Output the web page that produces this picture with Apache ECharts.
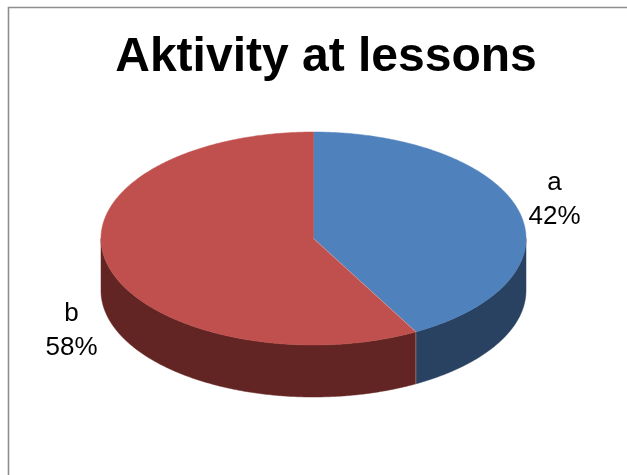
<!DOCTYPE html>
<html>
<head>
<meta charset="utf-8">
<style>html,body{margin:0;padding:0;background:#fff}#c{width:627px;height:475px}</style>
<script src="https://cdn.jsdelivr.net/npm/echarts@6/dist/echarts.min.js"></script>
</head>
<body>
<div id="c"></div>
<script>
var categories = ['a', 'b'];
var values = [42, 58];
var labelsPct = ['42%', '58%'];
var topColors = ['#4f81bd', '#c0504d'];
var sideColors = ['#294261', '#632523'];
var titleText = 'Aktivity at lessons';

var CX = 313.5, CY = 238.5, RX = 212.5, RY = 106.5, DEPTH = 52;
var labelPos = [[554.5, 200], [71.5, 331]];
var total = values.reduce(function (s, v) { return s + v; }, 0);

function pt(deg, dy) {
  var r = deg * Math.PI / 180;
  return [CX + RX * Math.sin(r), CY - RY * Math.cos(r) + (dy || 0)];
}
function arc(a0, a1, dy) {
  var pts = [], n = Math.max(2, Math.ceil(Math.abs(a1 - a0) * 2));
  for (var i = 0; i <= n; i++) pts.push(pt(a0 + (a1 - a0) * i / n, dy));
  return pts;
}

function renderSlice(params, api) {
  var i = params.dataIndex;
  var before = 0;
  for (var k = 0; k < i; k++) before += values[k];
  var a0 = before / total * 360;
  var a1 = (before + api.value(0)) / total * 360;
  var children = [];
  var w0 = Math.max(a0, 90), w1 = Math.min(a1, 270);
  if (w1 > w0) {
    children.push({
      type: 'polygon',
      shape: { points: arc(w0, w1, 0).concat(arc(w1, w0, DEPTH)) },
      style: { fill: sideColors[i], stroke: sideColors[i], lineWidth: 0.5 }
    });
  }
  children.push({
    type: 'polygon',
    shape: { points: [[CX, CY]].concat(arc(a0, a1, 0)) },
    style: { fill: topColors[i], stroke: topColors[i], lineWidth: 0.5 },
    z2: 5
  });
  // thin pale seam at the slice's leading edge, on top and on the wall
  if (a0 !== 0) {
    var e = pt(a0);
    children.push({
      type: 'polyline',
      shape: { points: [[CX, CY], e, [e[0], e[1] + DEPTH]] },
      style: { stroke: 'rgba(255,255,255,0.3)', lineWidth: 1, fill: null },
      z2: 6
    });
  }
  children.push({
    type: 'text',
    style: {
      x: labelPos[i][0], y: labelPos[i][1],
      text: categories[i] + '\n' + labelsPct[i],
      fill: '#000', align: 'center', verticalAlign: 'middle',
      font: '26px "Liberation Sans", Arial, sans-serif', lineHeight: 34
    },
    z2: 10
  });
  return { type: 'group', children: children };
}

var chart = echarts.init(document.getElementById('c'), null, { renderer: 'canvas' });
chart.setOption({
  animation: false,
  backgroundColor: '#fff',
  title: {
    text: titleText, left: 326, top: 29, textAlign: 'center',
    textStyle: { fontFamily: '"Liberation Sans", Arial, sans-serif', fontSize: 48, fontWeight: 'bold', color: '#000' },
    textVerticalAlign: 'top'
  },
  tooltip: { show: false },
  graphic: [
    { type: 'polyline', shape: { points: [[8.5, 475], [8.5, 7.5], [627, 7.5]] }, style: { stroke: '#8e8e8e', lineWidth: 1.6, fill: null } }
  ],
  series: [{
    type: 'custom',
    coordinateSystem: 'none',
    silent: true,
    renderItem: renderSlice,
    data: categories.map(function (c, i) { return { name: c, value: [values[i]] }; })
  }]
});
chart.setOption({ title: { left: 321 } });
</script>
</body>
</html>
